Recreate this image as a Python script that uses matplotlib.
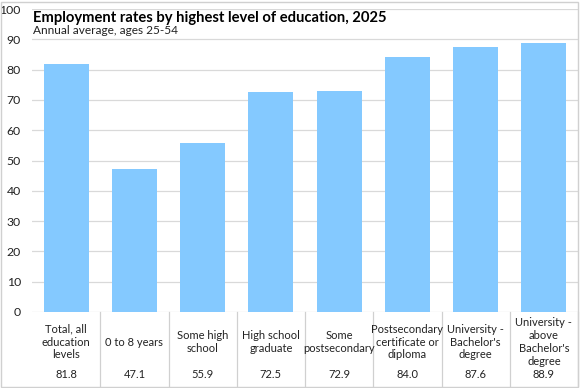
import matplotlib as mpl
mpl.use('Agg')
import matplotlib.pyplot as plt
import matplotlib.transforms as mtransforms
from matplotlib.patches import Rectangle

categories = ["Total, all\neducation\nlevels", "0 to 8 years", "Some high\nschool",
              "High school\ngraduate", "Some\npostsecondary",
              "Postsecondary\ncertificate or\ndiploma", "University -\nBachelor's\ndegree",
              "University -\nabove\nBachelor's\ndegree"]
rates = [81.8, 47.1, 55.9, 72.5, 72.9, 84.0, 87.6, 88.9]
yticks = [0, 10, 20, 30, 40, 50, 60, 70, 80, 90, 100]

W, H = 580, 388
fig = plt.figure(figsize=(W / 100, H / 100), dpi=100)
plt.rcParams['font.family'] = ['Lato', 'DejaVu Sans']

# plot area in pixels
left, right, bottom, top = 32, 578, 312, 9
ax = fig.add_axes([left / W, 1 - bottom / H, (right - left) / W, (bottom - top) / H])

x = list(range(len(rates)))
ax.bar(x, rates, width=0.66, color="#84C9FF", zorder=2)
ax.set_xlim(-0.5, len(rates) - 0.5)
ax.set_ylim(0, 100)
ax.set_yticks(yticks)
ax.set_yticklabels([str(t) for t in yticks], fontsize=8.8, color="#222222")
ax.tick_params(axis='y', length=0, pad=8)
ax.set_xticks([])
ax.grid(axis='y', color="#d9d9d9", linewidth=0.9, zorder=0)
for s in ax.spines.values():
    s.set_visible(False)

# table below the plot
trans = mtransforms.blended_transform_factory(ax.transData, fig.transFigure)
for i, (lab, v) in enumerate(zip(categories, rates)):
    ax.text(i, 1 - 342 / H, lab, transform=trans, ha='center', va='center',
            fontsize=8, color="#222222", linespacing=1.22, clip_on=False)
    ax.text(i, 1 - 375 / H, f"{v:.1f}", transform=trans, ha='center', va='center',
            fontsize=8, color="#222222", clip_on=False)
for i in range(1, len(rates) + 1):
    ax.plot([i - 0.5, i - 0.5], [1 - bottom / H, 1 - 386 / H], transform=trans,
            color="#d0d0d0", linewidth=0.9, clip_on=False)

# title
fig.text(33 / W, 1 - 18 / H, "Employment rates by highest level of education, 2025",
         fontsize=10.6, fontweight='bold', ha='left', va='center', color="#000000")
fig.text(33 / W, 1 - 30 / H, "Annual average, ages 25-54",
         fontsize=8.6, ha='left', va='center', color="#222222")

# outer border
fig.patches.append(Rectangle((1 / W, 1 / H), (W - 3) / W, (H - 3) / H, transform=fig.transFigure,
                             fill=False, edgecolor="#d0d0d0", linewidth=1))

fig.savefig("out.png", dpi=100)
